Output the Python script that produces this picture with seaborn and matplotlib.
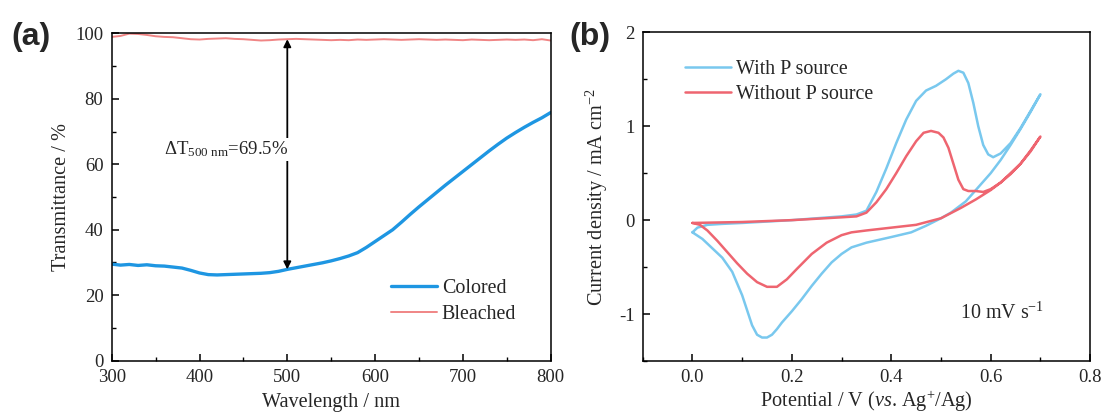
import numpy as np
import pandas as pd
import matplotlib
matplotlib.use("Agg")
import matplotlib.pyplot as plt
from matplotlib.ticker import MultipleLocator, FuncFormatter
import seaborn as sns

# ---------------- data ----------------
wavelength = list(range(300, 801, 10))
colored = [29.5, 29.2, 29.4, 29.1, 29.3, 29.0, 28.9, 28.6, 28.3, 27.6,
           26.8, 26.3, 26.2, 26.3, 26.4, 26.5, 26.6, 26.7, 26.9, 27.3,
           27.9, 28.4, 28.9, 29.4, 29.9, 30.5, 31.2, 32.0, 33.0, 34.6,
           36.4, 38.2, 40.0, 42.3, 44.7, 47.0, 49.2, 51.4, 53.6, 55.7,
           57.8, 59.9, 62.0, 64.1, 66.1, 68.0, 69.7, 71.3, 72.8, 74.2, 75.8]
bleached = [98.9, 99.2, 99.9, 99.8, 99.5, 99.1, 98.9, 98.8, 98.5, 98.2,
            98.1, 98.3, 98.4, 98.5, 98.3, 98.2, 98.0, 97.8, 97.9, 98.1,
            98.2, 98.3, 98.2, 98.1, 98.0, 97.9, 98.0, 97.9, 98.1, 98.0,
            98.1, 98.2, 98.1, 98.0, 98.1, 98.2, 98.1, 98.0, 98.1, 98.0,
            97.9, 98.1, 98.0, 97.9, 98.0, 98.1, 98.0, 98.1, 97.9, 98.2, 97.8]

# CV loops: anodic (forward) sweep then cathodic (return) sweep
with_p_potential = [0.0, 0.01, 0.03, 0.06, 0.1, 0.15, 0.2, 0.25, 0.3, 0.33, 0.35,
                    0.37, 0.39, 0.41, 0.43, 0.45, 0.47, 0.49, 0.51, 0.525, 0.535,
                    0.545, 0.555, 0.565, 0.575, 0.585, 0.595, 0.605, 0.62, 0.64,
                    0.66, 0.68, 0.7,
                    0.68, 0.66, 0.64, 0.62, 0.6, 0.58, 0.55, 0.52, 0.5, 0.47,
                    0.44, 0.4, 0.35, 0.32, 0.3, 0.28, 0.26, 0.24, 0.22, 0.2,
                    0.18, 0.17, 0.16, 0.15, 0.14, 0.13, 0.12, 0.11, 0.1, 0.08,
                    0.06, 0.04, 0.02, 0.0]
with_p_current = [-0.13, -0.08, -0.05, -0.04, -0.03, -0.015, 0.0, 0.02, 0.04, 0.06, 0.1,
                  0.3, 0.55, 0.82, 1.07, 1.27, 1.38, 1.43, 1.5, 1.56, 1.59,
                  1.57, 1.46, 1.25, 1.0, 0.8, 0.7, 0.67, 0.71, 0.82,
                  0.98, 1.16, 1.34,
                  1.15, 0.97, 0.8, 0.64, 0.5, 0.38, 0.2, 0.08, 0.02, -0.06,
                  -0.13, -0.18, -0.24, -0.29, -0.36, -0.45, -0.57, -0.7, -0.84, -0.97,
                  -1.09, -1.16, -1.22, -1.25, -1.25, -1.22, -1.12, -0.96, -0.8, -0.55,
                  -0.4, -0.3, -0.2, -0.13]

without_p_potential = [0.0, 0.05, 0.1, 0.15, 0.2, 0.25, 0.3, 0.33, 0.35, 0.37,
                       0.39, 0.41, 0.43, 0.45, 0.465, 0.48, 0.495, 0.505, 0.515,
                       0.525, 0.535, 0.545, 0.555, 0.57, 0.585, 0.6, 0.62, 0.64,
                       0.66, 0.68, 0.7,
                       0.68, 0.66, 0.64, 0.62, 0.6, 0.57, 0.54, 0.5, 0.45, 0.4,
                       0.35, 0.32, 0.3, 0.27, 0.24, 0.21, 0.19, 0.17, 0.15, 0.13,
                       0.11, 0.09, 0.07, 0.05, 0.03, 0.015, 0.0]
without_p_current = [-0.03, -0.025, -0.02, -0.01, 0.0, 0.015, 0.03, 0.04, 0.08, 0.19,
                     0.33, 0.5, 0.68, 0.84, 0.93, 0.95, 0.93, 0.88, 0.77,
                     0.6, 0.43, 0.33, 0.31, 0.31, 0.3, 0.33, 0.4, 0.5,
                     0.6, 0.74, 0.89,
                     0.73, 0.6, 0.49, 0.4, 0.32, 0.22, 0.13, 0.02, -0.05, -0.08,
                     -0.11, -0.13, -0.16, -0.24, -0.36, -0.52, -0.63, -0.71, -0.71, -0.66,
                     -0.57, -0.46, -0.34, -0.22, -0.11, -0.05, -0.03]

# ---------------- style ----------------
sns.set_theme(style="ticks")
plt.rcParams["font.family"] = ["Liberation Serif", "DejaVu Serif"]
plt.rcParams["mathtext.fontset"] = "custom"
plt.rcParams["mathtext.rm"] = "Liberation Serif"
plt.rcParams["mathtext.it"] = "Liberation Serif:italic"
plt.rcParams["mathtext.bf"] = "Liberation Serif:bold"
plt.rcParams["axes.unicode_minus"] = False
plt.rcParams["axes.linewidth"] = 1.1

TICK_FS = 13.5
LABEL_FS = 14.6
LEG_FS = 14.4

fig = plt.figure(figsize=(11.04, 4.19), dpi=100)
ax1 = fig.add_axes([0.1012, 0.1391, 0.3976, 0.7814])
ax2 = fig.add_axes([0.5822, 0.1384, 0.4052, 0.7845])

# ---------------- panel (a) ----------------
df_a = pd.DataFrame({"Wavelength": wavelength + wavelength,
                     "T": colored + bleached,
                     "State": ["Colored"] * len(wavelength) + ["Bleached"] * len(wavelength)})
sns.lineplot(data=df_a[df_a.State == "Colored"], x="Wavelength", y="T", ax=ax1,
             color="#1E96E2", lw=2.4, label="Colored", sort=False, estimator=None)
sns.lineplot(data=df_a[df_a.State == "Bleached"], x="Wavelength", y="T", ax=ax1,
             color="#F08585", lw=1.4, label="Bleached", sort=False, estimator=None)

ax1.set_xlim(300, 800)
ax1.set_ylim(0, 100)
ax1.xaxis.set_major_locator(MultipleLocator(100))
ax1.xaxis.set_minor_locator(MultipleLocator(50))
ax1.yaxis.set_major_locator(MultipleLocator(20))
ax1.yaxis.set_minor_locator(MultipleLocator(10))
ax1.set_xlabel("Wavelength / nm", fontsize=LABEL_FS, labelpad=5)
ax1.set_ylabel("Transmittance / %", fontsize=LABEL_FS, labelpad=3)

ax1.annotate("", xy=(500, 27.9), xytext=(500, 98.2),
             arrowprops=dict(arrowstyle="<|-|>", color="black", lw=1.3,
                             mutation_scale=11, shrinkA=0, shrinkB=0))
ax1.text(501, 64.5, r"$\Delta$T$_{500\ \mathrm{nm}}$=69.5%", fontsize=13.5,
         ha="right", va="center",
         bbox=dict(facecolor="white", edgecolor="none", pad=1.0))

leg1 = ax1.legend(loc="upper left", bbox_to_anchor=(0.636, 0.25), frameon=False,
                  fontsize=LEG_FS, handlelength=2.3, handletextpad=0.25,
                  borderaxespad=0, borderpad=0, labelspacing=0.35)

# ---------------- panel (b) ----------------
df_b1 = pd.DataFrame({"Potential": with_p_potential, "Current": with_p_current})
df_b2 = pd.DataFrame({"Potential": without_p_potential, "Current": without_p_current})
sns.lineplot(data=df_b1, x="Potential", y="Current", ax=ax2, color="#79C8EE",
             lw=1.8, label="With P source", sort=False, estimator=None)
sns.lineplot(data=df_b2, x="Potential", y="Current", ax=ax2, color="#EE6570",
             lw=1.8, label="Without P source", sort=False, estimator=None)

ax2.set_xlim(-0.1, 0.8)
ax2.set_ylim(-1.5, 2)
ax2.xaxis.set_major_locator(MultipleLocator(0.2))
ax2.xaxis.set_minor_locator(MultipleLocator(0.1))
ax2.yaxis.set_major_locator(MultipleLocator(1))
ax2.yaxis.set_minor_locator(MultipleLocator(0.5))
ax2.xaxis.set_major_formatter(FuncFormatter(lambda v, p: f"{v:.1f}"))
ax2.yaxis.set_major_formatter(FuncFormatter(lambda v, p: f"{int(round(v))}"))
ax2.set_xlabel(r"Potential / V ($vs$. Ag$^{+}$/Ag)", fontsize=LABEL_FS, labelpad=2)
ax2.set_ylabel(r"Current density / mA cm$^{-2}$", fontsize=LABEL_FS, labelpad=6)
ax2.text(0.897, 0.146, r"10 mV s$^{-1}$", transform=ax2.transAxes, fontsize=LEG_FS,
         ha="right", va="center")

leg2 = ax2.legend(loc="upper left", bbox_to_anchor=(0.094, 0.915), frameon=False,
                  fontsize=LEG_FS, handlelength=2.3, handletextpad=0.25,
                  borderaxespad=0, borderpad=0, labelspacing=0.3)

for ax in (ax1, ax2):
    ax.tick_params(which="both", direction="in", top=False, right=False,
                   labelsize=TICK_FS, color="black")
    ax.tick_params(which="major", length=5, width=1.1)
    ax.tick_params(which="minor", length=3, width=1.0)
    ax.tick_params(axis="x", which="major", pad=6)
    ax.tick_params(axis="y", which="major", pad=6)
    for s in ax.spines.values():
        s.set_visible(True)
        s.set_color("black")
        s.set_linewidth(1.1)

fig.text(0.010, 0.912, "(a)", fontsize=23, fontweight="bold",
         family="Liberation Sans", ha="left", va="center")
fig.text(0.516, 0.912, "(b)", fontsize=23, fontweight="bold",
         family="Liberation Sans", ha="left", va="center")

fig.savefig("out.png", dpi=100, facecolor="white")
